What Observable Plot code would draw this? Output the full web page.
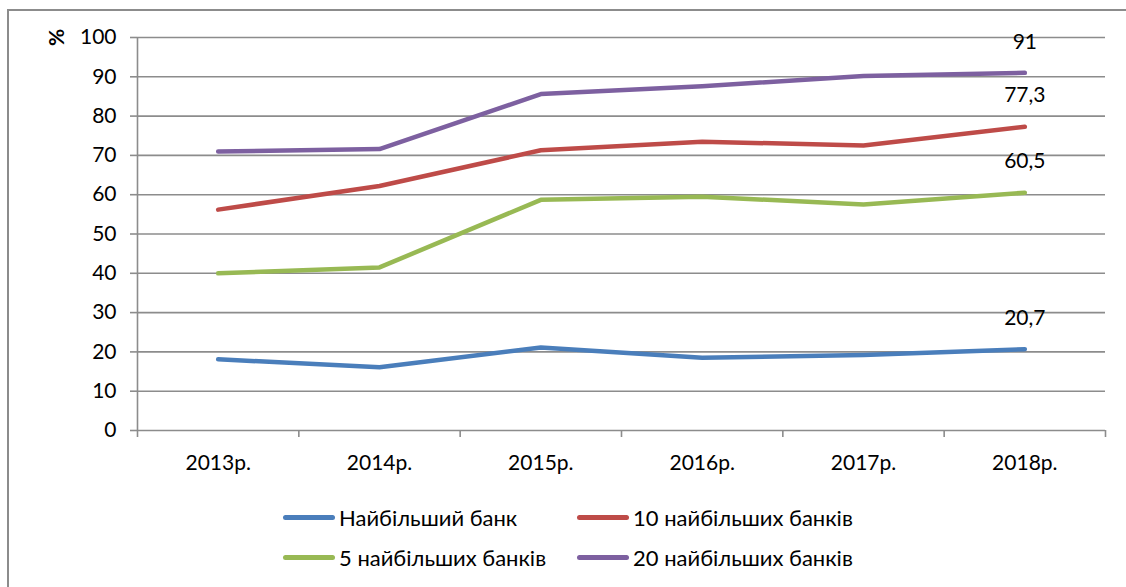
<!DOCTYPE html>
<html>
<head>
<meta charset="utf-8">
<script src="https://cdn.jsdelivr.net/npm/d3@7"></script>
<script src="https://cdn.jsdelivr.net/npm/@observablehq/plot@0.6"></script>
<style>
  html, body { margin: 0; padding: 0; background: #fff; }
  body { width: 1126px; height: 587px; position: relative; overflow: hidden; font-family: Lato, "Open Sans", sans-serif; }
  #chart { position: absolute; left: 0; top: 0; }
  #frame { position: absolute; left: 7px; top: 9px; width: 1200px; height: 700px; border-left: 2px solid #8c8c8c; border-top: 2px solid #8c8c8c; pointer-events: none; }
  .leg { position: absolute; display: flex; align-items: center; font-size: 22px; color: #000; white-space: nowrap; }
  .sw { width: 52px; height: 5px; border-radius: 3px; margin-right: 4px; }
</style>
</head>
<body>
<div id="chart"></div>
<div id="legend"></div>
<div id="frame"></div>
<script>
const years = ["2013р.", "2014р.", "2015р.", "2016р.", "2017р.", "2018р."];
const seriesNames = ["Найбільший банк", "10 найбільших банків", "5 найбільших банків", "20 найбільших банків"];
const seriesColors = ["#4A7EBB", "#BE4B48", "#98B954", "#7D60A0"];
const largest = [18.1, 16.1, 21.1, 18.5, 19.2, 20.7];
const top10 = [56.2, 62.2, 71.3, 73.5, 72.5, 77.3];
const top5 = [40.0, 41.5, 58.7, 59.5, 57.5, 60.5];
const top20 = [71.0, 71.6, 85.6, 87.6, 90.2, 91];
const endLabels = ["20,7", "77,3", "60,5", "91"];
const yTicks = [0, 10, 20, 30, 40, 50, 60, 70, 80, 90, 100];

const seriesValues = [largest, top10, top5, top20];
const rows = [];
seriesValues.forEach((vals, s) => vals.forEach((v, i) => rows.push({series: seriesNames[s], i, v})));
const lastPts = seriesValues.map((vals, s) => ({i: vals.length - 1, v: vals[vals.length - 1], label: endLabels[s]}));
const bounds = d3.range(years.length + 1).map(k => k - 0.5);
const grid = "#8c8c8c";

const chart = Plot.plot({
  width: 1126,
  height: 490,
  marginLeft: 137,
  marginRight: 21,
  marginTop: 37,
  marginBottom: 60,
  style: {fontFamily: 'Lato, "Open Sans", sans-serif', fontSize: "21px", color: "#000", background: "transparent"},
  x: {type: "linear", domain: [-0.5, years.length - 0.5]},
  y: {domain: [0, 100]},
  color: {domain: seriesNames, range: seriesColors},
  marks: [
    Plot.ruleY(yTicks, {stroke: grid, strokeWidth: 1.6, x1: -0.5, x2: years.length - 0.5}),
    Plot.ruleX([-0.5], {stroke: grid, strokeWidth: 1.6}),
    Plot.axisY({ticks: yTicks, tickSize: 7, tickPadding: 14, stroke: grid, strokeWidth: 1.6, strokeOpacity: 1, label: null, tickFormat: d => String(d)}),
    Plot.axisX({ticks: bounds, tickSize: 7, tickFormat: () => "", stroke: grid, strokeWidth: 1.6, strokeOpacity: 1, label: null}),
    Plot.axisX({ticks: d3.range(years.length), tickSize: 0, tickPadding: 25, tickFormat: i => years[i], label: null}),
    Plot.line(rows, {x: "i", y: "v", z: "series", stroke: "series", strokeWidth: 4.5, strokeLinecap: "round", strokeLinejoin: "round"}),
    Plot.text(lastPts, {x: "i", y: "v", text: "label", dy: -31, fill: "#000", fontSize: 21}),
    Plot.text(["%"], {x: -0.5, y: 100, dx: -80, rotate: -90, fill: "#000", fontSize: 21, fontWeight: "bold"})
  ]
});
document.getElementById("chart").appendChild(chart);

const legendPos = [[283, 517], [577, 517], [283, 557], [577, 557]];
const legendOrder = [0, 1, 2, 3];
const leg = document.getElementById("legend");
legendOrder.forEach((s, k) => {
  const d = document.createElement("div");
  d.className = "leg";
  d.style.left = legendPos[k][0] + "px";
  d.style.top = (legendPos[k][1] - 14) + "px";
  d.style.height = "28px";
  const sw = document.createElement("span");
  sw.className = "sw";
  sw.style.background = seriesColors[s];
  const t = document.createElement("span");
  t.textContent = seriesNames[s];
  d.appendChild(sw); d.appendChild(t);
  leg.appendChild(d);
});
</script>
</body>
</html>
